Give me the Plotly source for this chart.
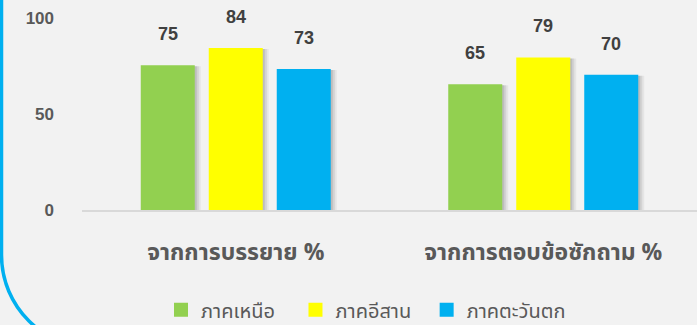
import plotly.graph_objects as go

# Survey results by region (percent)
categories = ["จากการบรรยาย %", "จากการตอบข้อซักถาม %"]
series_names = ["ภาคเหนือ", "ภาคอีสาน", "ภาคตะวันตก"]
north = [75, 65]
northeast = [84, 79]
west = [73, 70]
colors = ["#92d050", "#ffff00", "#00b0f0"]

series_values = [north, northeast, west]

W, H = 697, 325
ML, MR, MT, MB = 82, 0, 0, 115
plot_w = W - ML - MR
plot_h = H - MT - MB
cat_px = plot_w / len(categories)          # pixels per category
bar_px, slot_px = 52, 68                     # bar body (+2px outline) and per-series slot
bar_w = bar_px / cat_px
slot_w = slot_px / cat_px
y_max = 109.5

THAI = "Tahoma, Leelawadee UI, 'Noto Sans Thai', 'DejaVu Sans', sans-serif"

# trailing non-breaking spaces even out the legend entry widths
legend_pad = ["&nbsp;&nbsp;&nbsp;", "&nbsp;&nbsp;", ""]

fig = go.Figure()

# soft drop shadows behind each bar
for i, vals in enumerate(series_values):
    center = (i - 1) * slot_w
    for dx, alpha in [(3, 0.10), (5, 0.08), (7, 0.05)]:
        fig.add_trace(go.Bar(
            x=categories, y=[v + 1.2 for v in vals], base=-1.2,
            width=bar_w, offset=center - bar_w / 2 + dx / cat_px,
            marker=dict(color=f"rgba(0,0,0,{alpha})", line=dict(width=0)),
            showlegend=False, hoverinfo="skip",
        ))

# the bars themselves
for i, (name, vals) in enumerate(zip(series_names, series_values)):
    center = (i - 1) * slot_w
    fig.add_trace(go.Bar(
        x=categories, y=vals, name=name + legend_pad[i],
        width=bar_w, offset=center - bar_w / 2,
        marker=dict(color=colors[i], line=dict(width=2, color=colors[i])),
    ))
    for c, v in zip(categories, vals):
        fig.add_annotation(
            x=c, y=v, text=f"<b>{v}</b>", showarrow=False,
            xref="x", yref="y", xshift=center * cat_px,
            yanchor="bottom", yshift=20,
            font=dict(family="Arial, 'Liberation Sans', sans-serif", size=18, color="#404040"),
        )

# rounded cyan frame on the left edge
def px_to_paper(px, py):
    return (px - ML) / plot_w, (H - MB - py) / plot_h

r, k = 93, 0.5523
xl, yc = 1.5, 255
p0 = px_to_paper(xl, -5)
p1 = px_to_paper(xl, yc)
c1 = px_to_paper(xl, yc + k * r)
c2 = px_to_paper(xl + r - k * r, yc + r)
p2 = px_to_paper(xl + r, yc + r)
path = (f"M {p0[0]},{p0[1]} L {p1[0]},{p1[1]} "
        f"C {c1[0]},{c1[1]} {c2[0]},{c2[1]} {p2[0]},{p2[1]}")
fig.add_shape(type="path", path=path, xref="paper", yref="paper",
              line=dict(color="#00b0f0", width=3.5), layer="above")

fig.update_layout(
    width=W, height=H,
    margin=dict(l=ML, r=MR, t=MT, b=MB, autoexpand=False),
    paper_bgcolor="#f2f2f2", plot_bgcolor="#f2f2f2",
    barmode="overlay",
    showlegend=True,
    legend=dict(
        orientation="h", x=0.1285, xanchor="left", y=-0.475, yanchor="middle",
        font=dict(family=THAI, size=20, color="#595959"),
        itemwidth=30, tracegroupgap=0, bgcolor="rgba(0,0,0,0)",
    ),
    xaxis=dict(
        showgrid=False, showline=True, linecolor="#d9d9d9", linewidth=1.5,
        ticks="", ticklabelstandoff=21, automargin=False,
        tickfont=dict(family=THAI, size=23, color="#595959", weight="bold"),
        fixedrange=True,
    ),
    yaxis=dict(
        range=[0, y_max], tickvals=[0, 50, 100], showgrid=False, zeroline=False,
        showline=False, ticks="", ticklabelstandoff=27, automargin=False,
        tickfont=dict(family="Arial, 'Liberation Sans', sans-serif", size=17,
                      color="#595959", weight="bold"),
    ),
)

fig.write_html("out.html")
